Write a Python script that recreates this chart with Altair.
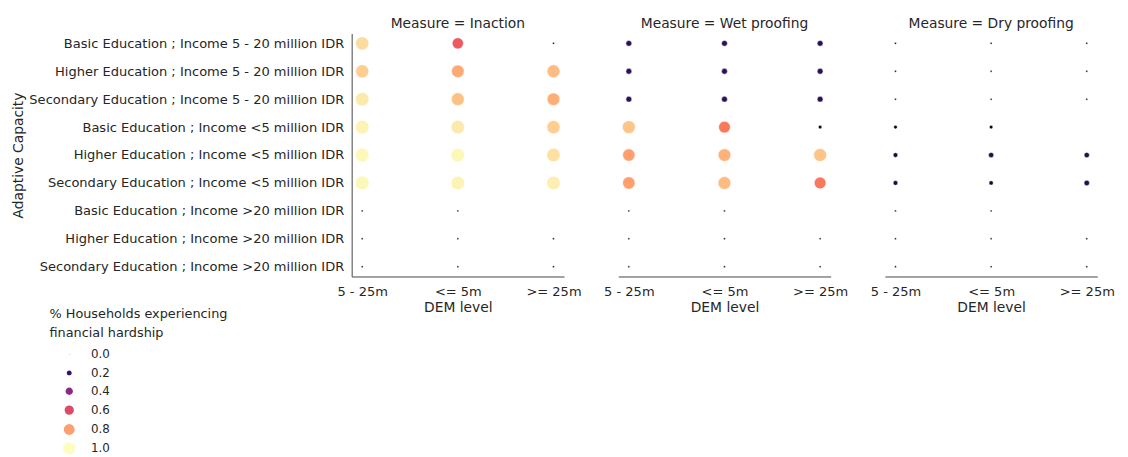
import altair as alt
import pandas as pd

rows = [
    "Basic Education ; Income 5 - 20 million IDR",
    "Higher Education ; Income 5 - 20 million IDR",
    "Secondary Education ; Income 5 - 20 million IDR",
    "Basic Education ; Income <5 million IDR",
    "Higher Education ; Income <5 million IDR",
    "Secondary Education ; Income <5 million IDR",
    "Basic Education ; Income >20 million IDR",
    "Higher Education ; Income >20 million IDR",
    "Secondary Education ; Income >20 million IDR",
]
dem_levels = ["5 - 25m", "<= 5m", ">= 25m"]
measures = ["Inaction", "Wet proofing", "Dry proofing"]

# values per row: [5 - 25m, <= 5m, >= 25m]
inaction = [
    [0.93, 0.65, 0.0],
    [0.90, 0.82, 0.86],
    [0.96, 0.87, 0.83],
    [0.98, 0.96, 0.90],
    [0.99, 0.99, 0.94],
    [0.99, 0.98, 0.97],
    [0.0, 0.0, None],
    [0.0, 0.0, 0.0],
    [0.0, 0.0, 0.0],
]
wet_proofing = [
    [0.16, 0.16, 0.16],
    [0.16, 0.16, 0.16],
    [0.16, 0.16, 0.16],
    [0.88, 0.72, 0.05],
    [0.80, 0.84, 0.88],
    [0.80, 0.86, 0.72],
    [0.0, 0.0, None],
    [0.0, 0.0, 0.0],
    [0.0, 0.0, 0.0],
]
dry_proofing = [
    [0.0, 0.0, 0.0],
    [0.0, 0.0, 0.0],
    [0.0, 0.0, 0.0],
    [0.05, 0.05, None],
    [0.10, 0.13, 0.13],
    [0.10, 0.08, 0.14],
    [0.0, 0.0, None],
    [0.0, 0.0, 0.0],
    [0.0, 0.0, 0.0],
]
legend_values = [0.0, 0.2, 0.4, 0.6, 0.8, 1.0]

records = []
for m, table in zip(measures, [inaction, wet_proofing, dry_proofing]):
    for r, vals in zip(rows, table):
        for d, v in zip(dem_levels, vals):
            if v is not None:
                records.append({"Measure": m, "Adaptive Capacity": r, "DEM level": d, "hardship": v})
df = pd.DataFrame(records)

FONT = "DejaVu Sans"
TXT = "#262626"
leg_title = ["% Households experiencing", "financial hardship"]

base = alt.Chart(df).mark_circle(opacity=1, stroke="white", strokeWidth=0.5).encode(
    x=alt.X("DEM level:N", sort=dem_levels, title="DEM level",
            scale=alt.Scale(type="point", padding=0.11),
            axis=alt.Axis(labelAngle=0, ticks=False, grid=False, labelPadding=9, titlePadding=3)),
    y=alt.Y("Adaptive Capacity:N", sort=rows, title="Adaptive Capacity",
            scale=alt.Scale(type="point", padding=0.35),
            axis=alt.Axis(ticks=False, grid=False, labelPadding=8, labelLimit=400,
                          titleX=-330, titleBaseline="bottom")),
    color=alt.Color("hardship:Q", title=leg_title,
                    scale=alt.Scale(scheme="magma", domain=[0, 1]),
                    legend=alt.Legend(type="symbol", values=legend_values, format=".1f")),
    size=alt.Size("hardship:Q", title=leg_title,
                  scale=alt.Scale(domain=[0, 1], range=[4, 195]),
                  legend=alt.Legend(type="symbol", values=legend_values, format=".1f")),
).properties(width=215, height=246)

chart = base.facet(
    column=alt.Column("Measure:N", sort=measures, title=None,
                      header=alt.Header(labelExpr="'Measure = ' + datum.value",
                                        labelFontSize=14, labelColor=TXT, labelFont=FONT,
                                        labelPadding=3)),
).properties(
    padding={"top": 6, "left": 4, "right": 5, "bottom": 5}
).configure_facet(spacing=55).configure_view(stroke=None).configure_axis(
    domainColor="#444444", labelFont=FONT, titleFont=FONT, labelFontSize=13.2,
    titleFontSize=14, labelColor=TXT, titleColor=TXT, titleFontWeight="normal",
).configure_legend(
    orient="none", legendX=-306, legendY=278,
    titleFont=FONT, labelFont=FONT, titleFontSize=13, labelFontSize=12,
    titleColor=TXT, labelColor=TXT, titleFontWeight="normal", titleLineHeight=19,
    titleLimit=400, gridAlign="all",
    symbolOffset=12, labelOffset=14, rowPadding=-1.4, titlePadding=9,
)

chart.save("out.html", embed_options={"renderer": "svg", "actions": False})
